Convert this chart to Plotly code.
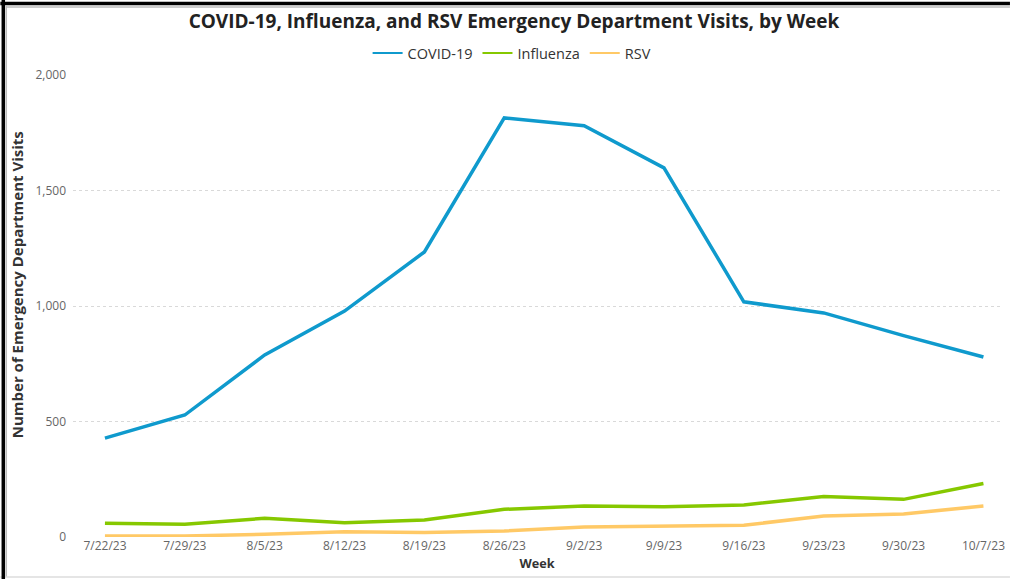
import plotly.graph_objects as go

weeks = ["7/22/23", "7/29/23", "8/5/23", "8/12/23", "8/19/23", "8/26/23",
         "9/2/23", "9/9/23", "9/16/23", "9/23/23", "9/30/23", "10/7/23"]
covid = [428, 528, 788, 978, 1234, 1814, 1780, 1598, 1018, 970, 872, 779]
influenza = [59, 55, 81, 62, 74, 120, 134, 131, 139, 175, 163, 232]
rsv = [4, 4, 12, 23, 20, 26, 43, 48, 51, 91, 100, 134]

series = [("COVID-19", covid, "#0F9ACD"),
          ("Influenza", influenza, "#86C800"),
          ("RSV", rsv, "#FFC966")]

fig = go.Figure()
for name, vals, color in series:
    fig.add_trace(go.Scatter(x=weeks, y=vals, name=name, mode="lines", showlegend=False,
                             legendgroup=name, line=dict(color=color, width=3.5)))
# legend entries with thin line symbols
for name, vals, color in series:
    fig.add_trace(go.Scatter(x=[None], y=[None], name=name, mode="lines", legendgroup=name,
                             line=dict(color=color, width=2), hoverinfo="skip"))

W, H = 1014, 579
L, R, T, B = 73, 9, 75, 42
pw, ph = W - L - R, H - T - B


def px(x):
    return (x - L) / pw


def py(y):
    return (H - B - y) / ph


fig.update_layout(
    width=W, height=H,
    paper_bgcolor="white", plot_bgcolor="white",
    font=dict(family="Open Sans", color="#666666", size=12),
    margin=dict(l=L, r=R, t=T, b=B),
    title=dict(text="<b>COVID-19, Influenza, and RSV Emergency Department Visits, by Week</b>",
               x=514 / W, xanchor="center", y=1 - 21 / H, yanchor="middle",
               font=dict(family="Open Sans", size=19, color="#222222")),
    legend=dict(orientation="h", x=px(514), xanchor="center", y=py(53), yanchor="middle",
                font=dict(size=14.5, color="#333333"), itemwidth=30, tracegroupgap=0),
    showlegend=True,
    xaxis=dict(type="category", range=[-0.4, 11.22], showgrid=False, showline=False,
               ticks="", tickfont=dict(size=12, color="#666666"),
               title=dict(text="<b>Week</b>", standoff=3,
                          font=dict(size=12.7, color="#333333"))),
    yaxis=dict(range=[0, 2000], tickvals=[0, 500, 1000, 1500, 2000],
               tickformat=",", showgrid=True, gridcolor="#d9d9d9", griddash="dot",
               gridwidth=1, zeroline=False, showline=False, ticks="",
               ticklabelstandoff=6,
               tickfont=dict(size=12, color="#666666")),
    annotations=[
        dict(text="<b>Number of Emergency Department Visits</b>", textangle=-90,
             xref="paper", yref="paper", x=px(17), y=py(285), xanchor="center", yanchor="middle",
             showarrow=False, font=dict(size=15, color="#333333")),
    ],
    shapes=[
        dict(type="line", xref="paper", yref="paper", x0=px(6), x1=px(6), y0=py(577), y1=py(6),
             line=dict(color="#bbbbbb", width=1.5)),
        dict(type="line", xref="paper", yref="paper", x0=px(6), x1=px(1014), y0=py(7), y1=py(7),
             line=dict(color="#bbbbbb", width=1.5)),
        dict(type="line", xref="paper", yref="paper", x0=px(0), x1=px(1014), y0=py(577), y1=py(577),
             line=dict(color="#dddddd", width=1.5)),
        dict(type="line", xref="paper", yref="paper", x0=px(3), x1=px(3), y0=py(579), y1=py(0),
             line=dict(color="#000000", width=3.5)),
        dict(type="line", xref="paper", yref="paper", x0=px(0), x1=px(1014), y0=py(3.5), y1=py(3.5),
             line=dict(color="#000000", width=3.5)),
    ],
)

fig.write_html("out.html", config={"displayModeBar": False},
               post_script="document.body.style.margin='0';document.body.style.overflow='hidden';")
